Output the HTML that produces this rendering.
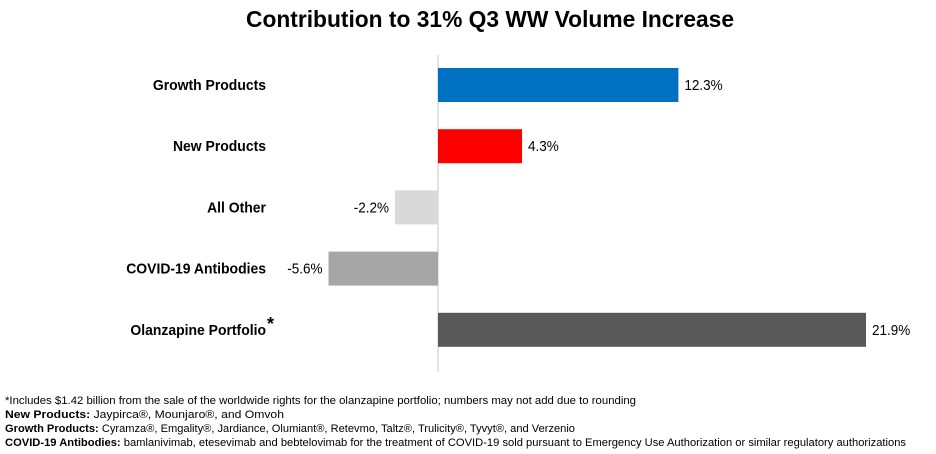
<!DOCTYPE html>
<html><head><meta charset="utf-8"><style>
body{margin:0;background:#fff;}
svg{display:block;font-family:"Liberation Sans Narrow","Liberation Sans",sans-serif;}
</style></head><body>
<svg width="936" height="454" viewBox="0 0 936 454">
<text x="490" y="27" text-anchor="middle" font-size="23" font-weight="bold" fill="#000" textLength="488" lengthAdjust="spacingAndGlyphs">Contribution to 31% Q3 WW Volume Increase</text>
<line x1="438" y1="55" x2="438" y2="372" stroke="#e3e3e3" stroke-width="2"/>
<g id="bars"></g>
<g font-size="11" fill="#000">
<text x="5" y="404" textLength="631" lengthAdjust="spacingAndGlyphs">*Includes $1.42 billion from the sale of the worldwide rights for the olanzapine portfolio; numbers may not add due to rounding</text>
<text x="5" y="418" textLength="279" lengthAdjust="spacingAndGlyphs"><tspan font-weight="bold">New Products:</tspan> Jaypirca®, Mounjaro®, and Omvoh</text>
<text x="5" y="432" textLength="570" lengthAdjust="spacingAndGlyphs"><tspan font-weight="bold">Growth Products:</tspan> Cyramza®, Emgality®, Jardiance, Olumiant®, Retevmo, Taltz®, Trulicity®, Tyvyt®, and Verzenio</text>
<text x="5" y="446" textLength="901" lengthAdjust="spacingAndGlyphs"><tspan font-weight="bold">COVID-19 Antibodies:</tspan> bamlanivimab, etesevimab and bebtelovimab for the treatment of COVID-19 sold pursuant to Emergency Use Authorization or similar regulatory authorizations</text>
</g>
</svg>
<script>
const categories=["Growth Products","New Products","All Other","COVID-19 Antibodies","Olanzapine Portfolio"];
const values=[12.3,4.3,-2.2,-5.6,21.9];
const valueLabels=["12.3%","4.3%","-2.2%","-5.6%","21.9%"];
const colors=["#0070c0","#ff0000","#d9d9d9","#a6a6a6","#595959"];
const NS="http://www.w3.org/2000/svg";
const x0=438, pxPer=428/21.9;
function xs(v){return x0+v*pxPer;}
function ys(i){return 68+i*61.2;}
function squeeze(t,f){const w=t.getComputedTextLength();t.setAttribute('textLength',w*f);t.setAttribute('lengthAdjust','spacingAndGlyphs');}
const g=document.getElementById('bars');
categories.forEach((c,i)=>{
  const v=values[i], y=ys(i), h=34;
  const r=document.createElementNS(NS,'rect');
  r.setAttribute('x',Math.min(xs(0),xs(v)));
  r.setAttribute('y',y);
  r.setAttribute('width',Math.abs(xs(v)-xs(0)));
  r.setAttribute('height',h);
  r.setAttribute('fill',colors[i]);
  
  
  g.appendChild(r);
  const t=document.createElementNS(NS,'text');
  t.setAttribute('x',v>=0?xs(v)+6:xs(v)-6);
  t.setAttribute('y',y+h/2+5);
  t.setAttribute('font-size','15');
  t.setAttribute('text-anchor',v>=0?'start':'end');
  t.textContent=valueLabels[i];
  
  
  g.appendChild(t);
  squeeze(t,0.9);
  const l=document.createElementNS(NS,'text');
  l.setAttribute('x',266);
  l.setAttribute('y',y+h/2+5);
  l.setAttribute('font-size','15');
  l.setAttribute('font-weight','bold');
  l.setAttribute('text-anchor','end');
  l.textContent=c;
  
  
  g.appendChild(l);
  squeeze(l,0.93);
  if(i===4){
    const s=document.createElementNS(NS,'text');
    s.setAttribute('x',267);s.setAttribute('y',y+h/2);
    s.setAttribute('font-size','18');s.setAttribute('font-weight','bold');
    s.textContent='*';
    
    
    g.appendChild(s);
  }
});
</script>
</body></html>
